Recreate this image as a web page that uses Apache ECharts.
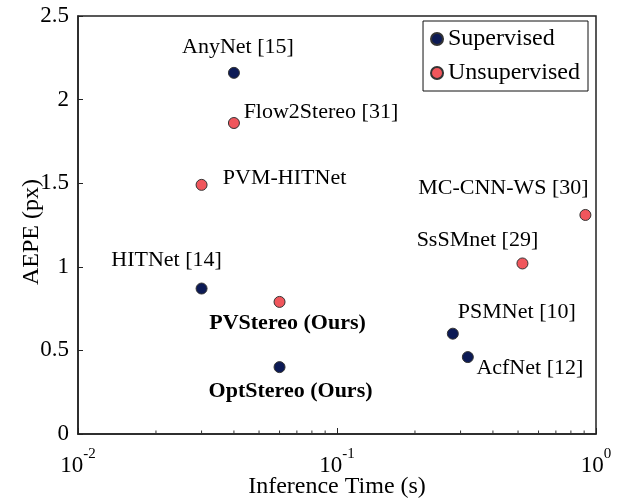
<!DOCTYPE html>
<html><head><meta charset="utf-8">
<script src="https://cdn.jsdelivr.net/npm/echarts@6.0.0/dist/echarts.min.js"></script>
<style>html,body{margin:0;padding:0;background:#fff}#c{width:628px;height:499px}</style>
</head><body><div id="c"></div><script>
// ---- data ----
const methods   = ['AnyNet [15]','Flow2Stereo [31]','PVM-HITNet','HITNet [14]','PVStereo (Ours)','OptStereo (Ours)','PSMNet [10]','AcfNet [12]','SsSMnet [29]','MC-CNN-WS [30]'];
const timesSec  = [0.04, 0.04, 0.03, 0.03, 0.06, 0.06, 0.28, 0.32, 0.52, 0.91];
const aepePx    = [2.16, 1.86, 1.49, 0.87, 0.79, 0.40, 0.60, 0.46, 1.02, 1.31];
const groups    = ['Supervised','Unsupervised','Unsupervised','Supervised','Unsupervised','Supervised','Supervised','Supervised','Unsupervised','Unsupervised'];
const oursFlags = [false,false,false,false,true,true,false,false,false,false];
const seriesNames = ['Supervised','Unsupervised'];
const yTicks = [0, 0.5, 1, 1.5, 2, 2.5];
const xMinorTickValues = [0.02,0.03,0.04,0.05,0.06,0.07,0.08,0.09,0.2,0.3,0.4,0.5,0.6,0.7,0.8,0.9];

// ---- styling (label offsets relative to each marker) ----
const labelOffsets = [[4,-26],[87,-11],[83,-7],[-35,-28],[8,21],[11,24],[64,-21],[62,11],[-45,-23],[-82,-27]];
const colors = {Supervised:'#0c1a55', Unsupervised:'#f0565c'};
const FONT = 'Liberation Serif';

function buildSeriesData(group){
  const out = [];
  for (let i = 0; i < methods.length; i++) {
    if (groups[i] !== group) continue;
    out.push({
      name: methods[i],
      value: [timesSec[i], aepePx[i]],
      label: {
        show: true, position: 'inside', offset: labelOffsets[i],
        formatter: '{b}', color: '#000', fontFamily: FONT, fontSize: 22,
        fontWeight: oursFlags[i] ? 'bold' : 'normal', textBorderWidth: 0
      }
    });
  }
  return out;
}

const chart = echarts.init(document.getElementById('c'), null, {renderer:'canvas'});
const expMap = {'0.01':'-2','0.1':'-1','1':'0'};
chart.setOption({
  animation: false,
  backgroundColor: '#fff',
  grid: {left: 78, right: 32, top: 16, bottom: 65, containLabel: false, outerBoundsMode: 'none',
    show: true, borderColor: '#222', borderWidth: 1.5, backgroundColor: 'transparent'},
  legend: {
    data: seriesNames, orient: 'vertical', right: 40, top: 21,
    backgroundColor: '#fff', borderColor: '#111', borderWidth: 1,
    padding: [6, 8, 6, 7], itemGap: 10, itemWidth: 12, itemHeight: 12,
    textStyle: {fontFamily: FONT, fontSize: 24, color: '#000', lineHeight: 24}
  },
  xAxis: {
    type: 'log', logBase: 10, min: 0.01, max: 1,
    name: 'Inference Time (s)', nameLocation: 'middle', nameGap: 41, nameMoveOverlap: false,
    nameTextStyle: {fontFamily: FONT, fontSize: 24, color: '#000'},
    axisLine: {show: true, lineStyle: {color: '#222', width: 1.5}},
    axisTick: {show: true, inside: true, length: 6, lineStyle: {color: '#222', width: 1}},
    splitLine: {show: false},
    axisLabel: {
      margin: 13, color: '#000',
      formatter: v => '{b|10}{s|' + (expMap[String(+v.toPrecision(3))] || '') + '}',
      rich: {
        b: {fontFamily: FONT, fontSize: 23, color: '#000', lineHeight: 30, verticalAlign: 'bottom'},
        s: {fontFamily: FONT, fontSize: 15, color: '#000', lineHeight: 30, verticalAlign: 'top'}
      }
    }
  },
  yAxis: {
    type: 'value', min: 0, max: 2.5, interval: 0.5,
    name: 'AEPE (px)', nameLocation: 'middle', nameGap: 34, nameRotate: 90, nameMoveOverlap: false,
    nameTextStyle: {fontFamily: FONT, fontSize: 24, color: '#000', padding: [0, 14, 0, 0]},
    axisLine: {show: true, lineStyle: {color: '#222', width: 1.5}},
    axisTick: {show: true, inside: true, length: 5, lineStyle: {color: '#222', width: 1}},
    splitLine: {show: false},
    axisLabel: {margin: 9, fontFamily: FONT, fontSize: 23, color: '#000',
      formatter: v => yTicks.includes(v) ? String(v) : ''}
  },
  series: [
    ...seriesNames.map(g => ({
      name: g, type: 'scatter', symbol: 'circle', symbolSize: 11,
      itemStyle: {color: colors[g], borderColor: '#333', borderWidth: 1, opacity: 1},
      data: buildSeriesData(g), z: 3
    })),
    {
      name: 'minorTicks', type: 'custom', silent: true, z: 1,
      data: xMinorTickValues.map(v => [v, 0]),
      renderItem: (params, api) => {
        const p = api.coord([api.value(0), 0]);
        return {type: 'line', shape: {x1: p[0], y1: p[1], x2: p[0], y2: p[1] - 3.5},
          style: {stroke: '#333', lineWidth: 1}};
      }
    }
  ]
});
</script></body></html>
